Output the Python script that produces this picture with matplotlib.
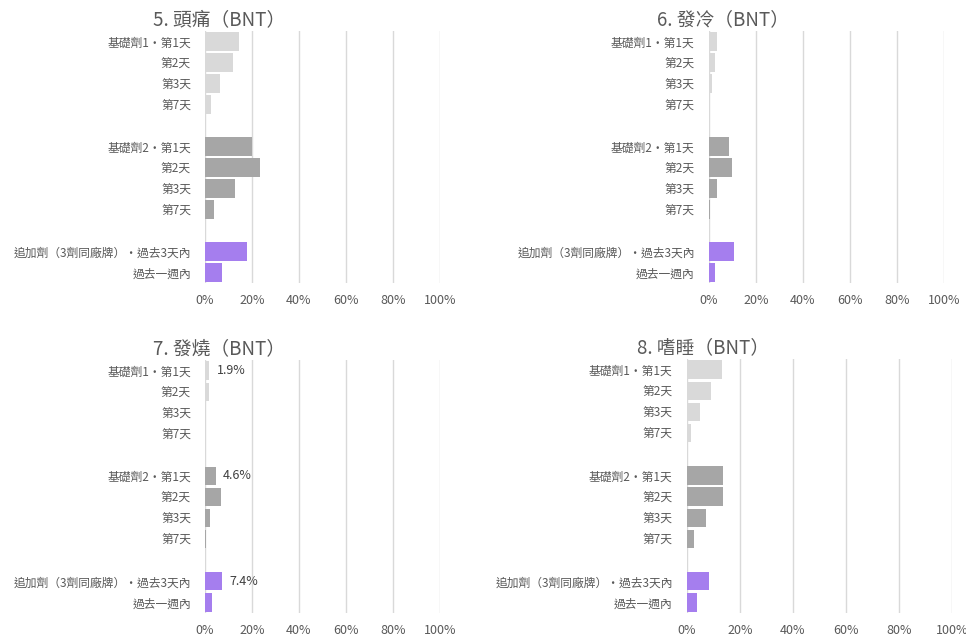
import matplotlib
matplotlib.use("Agg")
import matplotlib.pyplot as plt
from matplotlib.ticker import PercentFormatter

plt.rcParams['font.family'] = ['Noto Sans CJK TC', 'DejaVu Sans']

# category labels, top to bottom; None marks the blank spacer rows
labels = [
    "基礎劑1・第1天", "第2天", "第3天", "第7天", None,
    "基礎劑2・第1天", "第2天", "第3天", "第7天", None,
    "追加劑（3劑同廠牌）・過去3天內", "過去一週內",
]
groups = ["b1", "b1", "b1", "b1", None, "b2", "b2", "b2", "b2", None, "bst", "bst"]

titles = ["5. 頭痛（BNT）", "6. 發冷（BNT）", "7. 發燒（BNT）", "8. 嗜睡（BNT）"]

# percent values, same order as labels (spacer rows skipped)
headache = [14.5, 12.0, 6.4, 2.6, 20.0, 23.4, 12.8, 3.8, 17.9, 7.2]
chills = [3.5, 2.7, 1.3, 0.4, 8.6, 9.9, 3.5, 0.5, 10.7, 2.7]
fever = [1.9, 1.6, 0.6, 0.2, 4.6, 6.7, 2.1, 0.3, 7.4, 3.0]
drowsy = [13.3, 9.3, 5.0, 1.7, 13.7, 13.7, 7.3, 2.7, 8.4, 3.9]

# data labels shown only in the fever panel
fever_labels = {0: "1.9%", 4: "4.6%", 8: "7.4%"}

colors = {"b1": "#D9D9D9", "b2": "#A6A6A6", "bst": "#A57EEE"}
text_c = "#595959"

# axes rectangles in figure fractions (left, bottom, width, height)
rects = [
    (0.2122, 0.5578, 0.2433, 0.3938),
    (0.7336, 0.5578, 0.2439, 0.3938),
    (0.2122, 0.0422, 0.2433, 0.3953),
    (0.7109, 0.0422, 0.2749, 0.3969),
]

fig = plt.figure(figsize=(9.66, 6.4), dpi=100)

for k, (vals, title, rect) in enumerate(zip([headache, chills, fever, drowsy], titles, rects)):
    ax = fig.add_axes(rect)
    rows = [i for i, l in enumerate(labels) if l is not None]
    cols = [colors[groups[i]] for i in rows]
    bars = ax.barh(rows, vals, height=0.86, color=cols, zorder=3)
    if k == 2:
        for j, txt in fever_labels.items():
            b = bars[j]
            ax.text(b.get_width() + 3.0, b.get_y() + b.get_height() / 2, txt,
                    va="center", ha="left", fontsize=9, color="#404040")
    ax.set_xlim(0, 100)
    ax.set_ylim(len(labels) - 0.5, -0.5)
    ax.set_yticks(range(len(labels)))
    ax.set_yticklabels([l if l else "" for l in labels])
    ax.set_xticks(range(0, 101, 20))
    ax.xaxis.set_major_formatter(PercentFormatter(decimals=0))
    ax.tick_params(axis="y", length=0, pad=10, labelsize=8.5, labelcolor=text_c)
    ax.tick_params(axis="x", length=0, pad=8, labelsize=9, labelcolor=text_c)
    ax.grid(axis="x", color="#D9D9D9", linewidth=1, zorder=0)
    for s in ax.spines.values():
        s.set_visible(False)
    ax.set_title(title, fontsize=13.5, color=text_c, pad=4, loc="center", x=0.06)

fig.savefig("out.png", dpi=100)
